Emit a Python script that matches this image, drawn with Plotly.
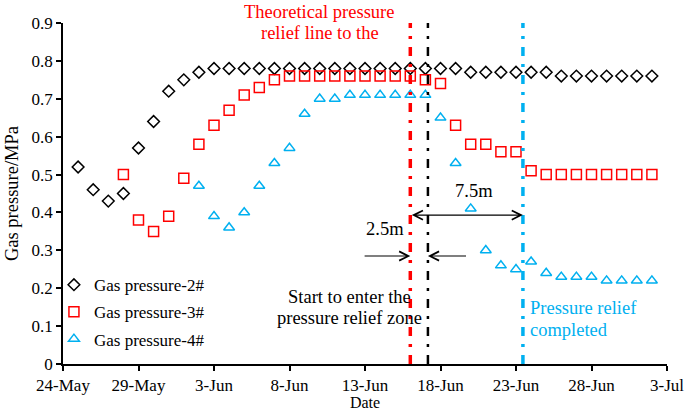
import plotly.graph_objects as go

dates = [
    "2019-05-25", "2019-05-26", "2019-05-27", "2019-05-28", "2019-05-29", "2019-05-30", "2019-05-31",
    "2019-06-01", "2019-06-02", "2019-06-03", "2019-06-04", "2019-06-05", "2019-06-06", "2019-06-07",
    "2019-06-08", "2019-06-09", "2019-06-10", "2019-06-11", "2019-06-12", "2019-06-13", "2019-06-14",
    "2019-06-15", "2019-06-16", "2019-06-17", "2019-06-18", "2019-06-19", "2019-06-20", "2019-06-21",
    "2019-06-22", "2019-06-23", "2019-06-24", "2019-06-25", "2019-06-26", "2019-06-27", "2019-06-28",
    "2019-06-29", "2019-06-30", "2019-07-01", "2019-07-02",
]

gas2 = [0.52, 0.46, 0.43, 0.45, 0.57, 0.64, 0.72,
        0.75, 0.77, 0.78, 0.78, 0.78, 0.78, 0.78,
        0.78, 0.78, 0.78, 0.78, 0.78, 0.78, 0.78,
        0.78, 0.78, 0.78, 0.78, 0.78, 0.77, 0.77,
        0.77, 0.77, 0.77, 0.77, 0.76, 0.76, 0.76,
        0.76, 0.76, 0.76, 0.76]

gas3 = [None, None, None, 0.50, 0.38, 0.35, 0.39,
        0.49, 0.58, 0.63, 0.67, 0.71, 0.73, 0.75,
        0.76, 0.76, 0.76, 0.76, 0.76, 0.76, 0.76,
        0.76, 0.76, 0.75, 0.74, 0.63, 0.58, 0.58,
        0.56, 0.56, 0.51, 0.50, 0.50, 0.50, 0.50,
        0.50, 0.50, 0.50, 0.50]

gas4 = [None, None, None, None, None, None, None,
        None, 0.47, 0.39, 0.36, 0.40, 0.47, 0.53,
        0.57, 0.66, 0.70, 0.70, 0.71, 0.71, 0.71,
        0.71, 0.71, 0.71, 0.65, 0.53, 0.41, 0.30,
        0.26, 0.25, 0.27, 0.24, 0.23, 0.23, 0.23,
        0.22, 0.22, 0.22, 0.22]

tick_vals = ["2019-05-24", "2019-05-29", "2019-06-03", "2019-06-08", "2019-06-13",
             "2019-06-18", "2019-06-23", "2019-06-28", "2019-07-03"]
tick_text = ["24-May", "29-May", "3-Jun", "8-Jun", "13-Jun", "18-Jun", "23-Jun", "28-Jun", "3-Jul"]

# event lines
line_theory = "2019-06-16 00:00"
line_start = "2019-06-17 04:00"
line_done = "2019-06-23 11:00"

RED = "#FF0000"
BLUE = "#00B0F0"
FONT = "Liberation Serif"
AF = 18.5
DASH = "9px,8px,3px,8px"

fig = go.Figure()
fig.add_trace(go.Scatter(x=dates, y=gas2, mode="markers", name="Gas pressure-2#", legendgroup="a",
                         marker=dict(symbol="diamond-open", size=9, color="black", line=dict(width=1.5))))
fig.add_trace(go.Scatter(x=dates, y=gas3, mode="markers", name="Gas pressure-3#", legendgroup="b",
                         marker=dict(symbol="square-open", size=10, color=RED, line=dict(width=1.5))))
fig.add_trace(go.Scatter(x=dates, y=gas4, mode="markers", name="Gas pressure-4#", legendgroup="c",
                         marker=dict(symbol="triangle-up-open", size=9.5, color=BLUE, line=dict(width=1.5))))

for xv, col, w in [(line_theory, RED, 3.5), (line_start, "black", 2.5), (line_done, BLUE, 3.5)]:
    fig.add_shape(type="line", xref="x", yref="y", x0=xv, x1=xv, y0=0, y1=0.905,
                  line=dict(color=col, width=w, dash=DASH))

def txt(x, y, s, color, xanchor="center", yref="y"):
    return dict(x=x, y=y, xref="x", yref=yref, text=s, showarrow=False, xanchor=xanchor, yanchor="middle",
                font=dict(color=color, size=AF, family=FONT))

anns = [
    txt("2019-06-10 00:00", 1.032, "Theoretical pressure", RED, yref="paper"),
    txt("2019-06-10 00:00", 0.97, "relief line to the", RED, yref="paper"),
    txt("2019-06-12 00:00", 0.177, "Start to enter the", "black"),
    txt("2019-06-12 00:00", 0.121, "pressure relief zone", "black"),
    txt("2019-06-23 19:00", 0.148, "Pressure relief", BLUE, xanchor="left"),
    txt("2019-06-23 19:00", 0.090, "completed", BLUE, xanchor="left"),
    txt("2019-06-20 05:00", 0.456, "7.5m", "black"),
    txt("2019-06-14 08:00", 0.356, "2.5m", "black"),
]
# arrows
anns.append(dict(x=line_done, y=0.393, ax=line_theory, ay=0.393, xref="x", yref="y", axref="x", ayref="y",
                 text="", showarrow=True, arrowhead=5, startarrowhead=5, arrowside="end+start",
                 arrowsize=1.5, startarrowsize=1.5, arrowwidth=1.2, arrowcolor="black"))
anns.append(dict(x=line_theory, y=0.285, ax="2019-06-12 21:00", ay=0.285, xref="x", yref="y", axref="x", ayref="y",
                 text="", showarrow=True, arrowhead=5, arrowsize=1.5, arrowwidth=1.2, arrowcolor="black"))
anns.append(dict(x=line_start, y=0.285, ax="2019-06-19 19:00", ay=0.285, xref="x", yref="y", axref="x", ayref="y",
                 text="", showarrow=True, arrowhead=5, arrowsize=1.5, arrowwidth=1.2, arrowcolor="black"))

fig.update_layout(
    width=685, height=411,
    margin=dict(l=63, r=18, t=23, b=47),
    paper_bgcolor="white", plot_bgcolor="white",
    font=dict(family=FONT, size=17, color="black"),
    annotations=anns,
    legend=dict(x=-0.015, y=0.284, xanchor="left", yanchor="top", bgcolor="rgba(0,0,0,0)",
                font=dict(size=17, family=FONT), tracegroupgap=2, itemwidth=30),
    showlegend=True,
)
fig.update_xaxes(type="date", range=["2019-05-24", "2019-07-03"], tickvals=tick_vals, ticktext=tick_text,
                 showgrid=False, zeroline=False, showline=True, linecolor="black", linewidth=1.5,
                 ticks="outside", ticklen=5, tickwidth=1.5, tickcolor="black", automargin=False,
                 tickfont=dict(size=17), title=dict(text="Date", standoff=3, font=dict(size=16)))
fig.update_yaxes(range=[0, 0.9], dtick=0.1, showgrid=False, zeroline=False, showline=True,
                 linecolor="black", linewidth=1.5, ticks="outside", ticklen=5, tickwidth=1.5,
                 tickcolor="black", automargin=False, tickfont=dict(size=17),
                 title=dict(text="Gas pressure/MPa", standoff=8, font=dict(size=18.5)))

fig.write_html("out.html", config={"displayModeBar": False},
               post_script="document.body.style.margin='0px';")
